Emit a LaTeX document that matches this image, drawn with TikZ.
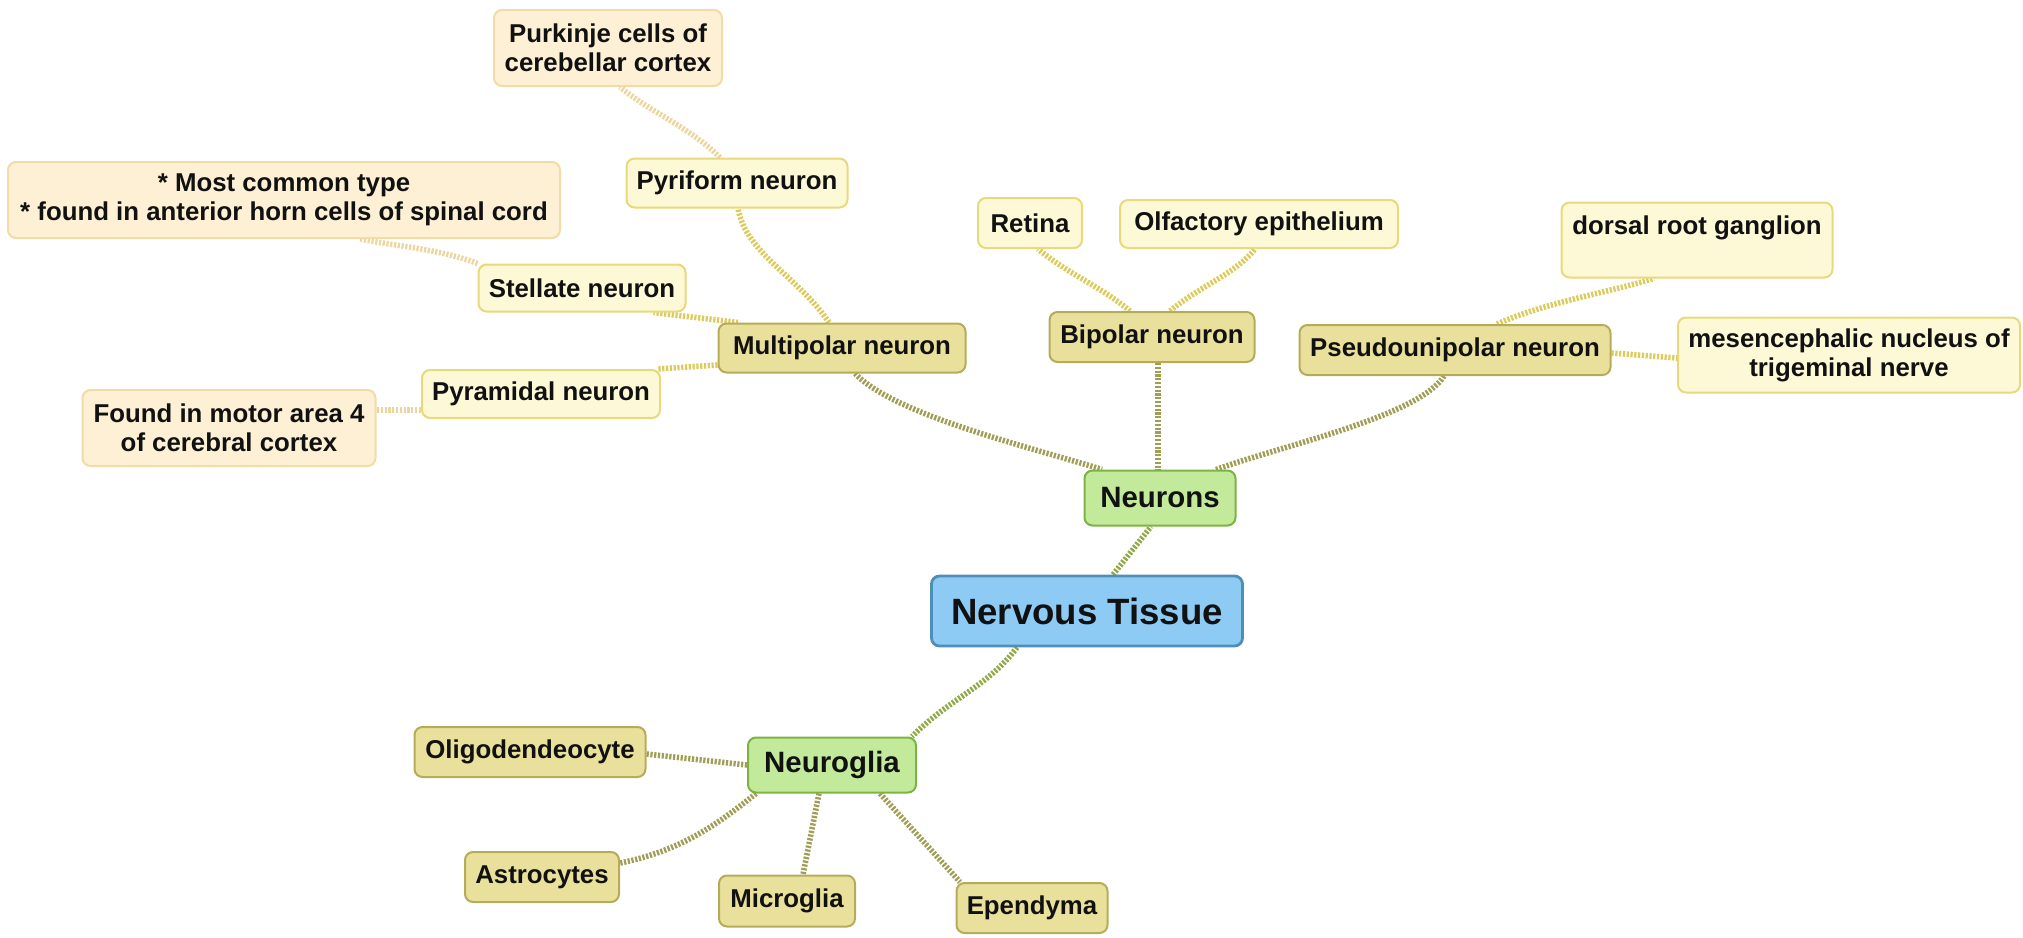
\documentclass[tikz,border=0pt]{standalone}
\usepackage{fontspec}
\setmainfont{Liberation Sans}
\usetikzlibrary{backgrounds}
\definecolor{rootfill}{HTML}{8DCBF5}
\definecolor{rootdraw}{HTML}{4E8FB5}
\definecolor{grfill}{HTML}{C2EA9A}
\definecolor{grdraw}{HTML}{7DB342}
\definecolor{khfill}{HTML}{E9E19B}
\definecolor{khdraw}{HTML}{B5AC5A}
\definecolor{yefill}{HTML}{FDF8D6}
\definecolor{yedraw}{HTML}{E8D97A}
\definecolor{pefill}{HTML}{FDF0D4}
\definecolor{pedraw}{HTML}{F1DBA6}
\definecolor{lgreen}{HTML}{8FAA45}
\definecolor{lolive}{HTML}{A09E55}
\definecolor{lyellow}{HTML}{DCCB5A}
\definecolor{lpeach}{HTML}{EDD59E}
\definecolor{txt}{HTML}{111111}
\tikzset{
  box/.style={rounded corners=4pt, line width=1pt, align=center, inner sep=0pt, text=txt,
    font=\bfseries\fontsize{12.9}{14.5}\selectfont},
  rootbox/.style={box, fill=rootfill, draw=rootdraw, line width=1.4pt,
    font=\bfseries\fontsize{18.3}{21}\selectfont},
  grbox/.style={box, fill=grfill, draw=grdraw, font=\bfseries\fontsize{14.7}{17}\selectfont},
  khbox/.style={box, fill=khfill, draw=khdraw},
  yebox/.style={box, fill=yefill, draw=yedraw},
  pebox/.style={box, fill=pefill, draw=pedraw},
  conn/.style={line width=2.8pt, dash pattern=on 1.1pt off 0.8pt},
  cgreen/.style={conn, draw=lgreen},
  colive/.style={conn, draw=lolive},
  cyellow/.style={conn, draw=lyellow},
  cpeach/.style={conn, draw=lpeach},
}
\begin{document}
\begin{tikzpicture}[x=0.5pt, y=-0.5pt]
\useasboundingbox (0,0) rectangle (2023,937);
% nodes
\node[rootbox, minimum width=155.5pt, minimum height=35pt] (nt) at (1087,611) {Nervous Tissue};
\node[grbox, minimum width=75.5pt, minimum height=27.5pt] (neur) at (1160,498) {Neurons};
\node[grbox, minimum width=84pt, minimum height=27.5pt] (glia) at (832,765) {Neuroglia};
\node[khbox, minimum width=115.5pt, minimum height=25pt] (oligo) at (530,752) {Oligodendeocyte};
\node[khbox, minimum width=77pt, minimum height=25pt] (astro) at (542,877) {Astrocytes};
\node[khbox, minimum width=68pt, minimum height=25.5pt] (micro) at (787,901) {Microglia};
\node[khbox, minimum width=75.5pt, minimum height=25pt] (epend) at (1032,908) {Ependyma};
\node[khbox, minimum width=123.5pt, minimum height=24.5pt] (multi) at (842,348) {Multipolar neuron};
\node[khbox, minimum width=102.5pt, minimum height=25pt] (bip) at (1152,337) {Bipolar neuron};
\node[khbox, minimum width=155.5pt, minimum height=25pt] (pseudo) at (1455,350) {Pseudounipolar neuron};
\node[yebox, minimum width=110.5pt, minimum height=24.5pt] (pyri) at (737,183) {Pyriform neuron};
\node[yebox, minimum width=103.5pt, minimum height=23.5pt] (stell) at (582,288) {Stellate neuron};
\node[yebox, minimum width=119pt, minimum height=24pt] (pyram) at (541,394) {Pyramidal neuron};
\node[yebox, minimum width=52pt, minimum height=25pt] (retina) at (1030,223) {Retina};
\node[yebox, minimum width=139pt, minimum height=24pt] (olf) at (1259,224) {Olfactory epithelium};
\node[yebox, minimum width=135.5pt, minimum height=37.5pt] (drg) at (1697,240) {dorsal root ganglion\\~};
\node[yebox, minimum width=171pt, minimum height=37.5pt] (mes) at (1849,355) {mesencephalic nucleus of\\trigeminal nerve};
\node[pebox, minimum width=114pt, minimum height=38pt] (purk) at (608,48) {Purkinje cells of\\cerebellar cortex};
\node[pebox, minimum width=276pt, minimum height=38pt] (common) at (284,200) {* Most common type\\* found in anterior horn cells of spinal cord};
\node[pebox, minimum width=146.5pt, minimum height=38pt] (found) at (229,428) {Found in motor area 4\\of cerebral cortex};
% connectors
\begin{scope}[on background layer]
\draw[cgreen] ([xshift=13pt]nt.north) -- ([xshift=-4.5pt]neur.south);
\draw[cgreen] ([xshift=-35pt]nt.south) .. controls +(-30,40) and +(40,-40) .. ([xshift=40pt]glia.north);
\draw[colive] (glia.west) -- ([yshift=-1pt]oligo.east);
\draw[colive] ([xshift=-38pt]glia.south) .. controls +(-40,32) and +(60,-12) .. ([yshift=7pt]astro.east);
\draw[colive] ([xshift=-6.5pt]glia.south) -- ([xshift=8pt]micro.north);
\draw[colive] ([xshift=24pt]glia.south) -- ([xshift=-36pt]epend.north);
\draw[colive] ([xshift=6.5pt]multi.south) .. controls +(40,42) and +(-70,-22) .. ([xshift=-29pt]neur.north);
\draw[colive] ([xshift=3pt]bip.south) -- ([xshift=-1pt]neur.north);
\draw[colive] ([xshift=-5.5pt]pseudo.south) .. controls +(-25,40) and +(70,-25) .. ([xshift=28pt]neur.north);
\draw[cyellow] ([xshift=-6.5pt]multi.north) .. controls +(-30,-45) and +(8,45) .. ([xshift=0.5pt]pyri.south);
\draw[cyellow] ([xshift=-52pt]multi.north) -- ([xshift=-16.5pt]stell.south east);
\draw[cyellow] ([yshift=-8.5pt]multi.west) -- ([xshift=-2pt]pyram.north east);
\draw[cyellow] ([xshift=-11pt]bip.north) .. controls +(-30,-25) and +(30,25) .. ([xshift=4pt]retina.south);
\draw[cyellow] ([xshift=9pt]bip.north) .. controls +(30,-25) and +(-20,25) .. ([xshift=-2pt]olf.south);
\draw[cyellow] ([xshift=21pt]pseudo.north) .. controls +(50,-22) and +(-50,15) .. ([xshift=-21.5pt]drg.south);
\draw[cyellow] ([yshift=-1.5pt]pseudo.east) -- ([yshift=-1.5pt]mes.west);
\draw[cpeach] ([xshift=-8.5pt]pyri.north) .. controls +(-30,-30) and +(30,25) .. ([xshift=6pt]purk.south);
\draw[cpeach] (stell.north west) .. controls +(-40,-15) and +(40,8) .. ([xshift=38pt]common.south);
\draw[cpeach] ([yshift=-8pt]pyram.west) -- ([yshift=9pt]found.east);
\end{scope}
\end{tikzpicture}
\end{document}
